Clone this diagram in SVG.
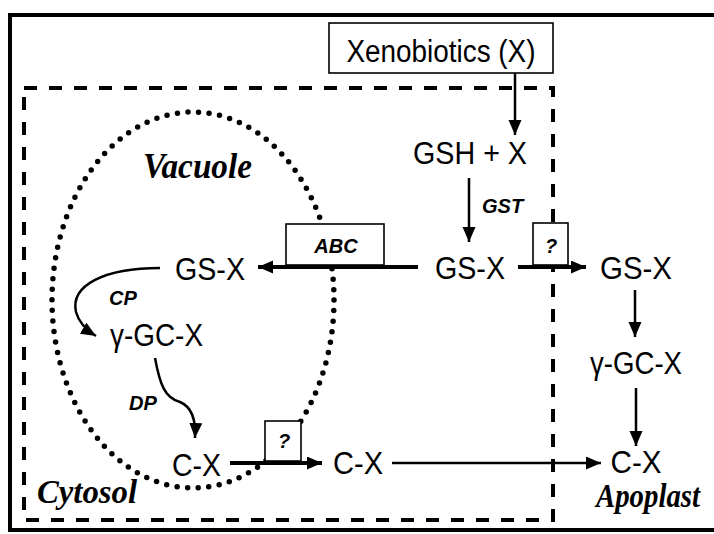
<svg xmlns="http://www.w3.org/2000/svg" width="714" height="534" viewBox="0 0 714 534">
<defs>
<marker id="ah" markerUnits="userSpaceOnUse" markerWidth="16" markerHeight="14" refX="15" refY="6.5" orient="auto">
<path d="M0,0 L15,6.5 L0,13 z" fill="#000"/>
</marker>
<style>
.lbl{font-family:"Liberation Sans",Arial,sans-serif;font-size:31px;fill:#000}
.enz{font-family:"Liberation Sans",Arial,sans-serif;font-size:20px;font-weight:bold;font-style:italic;fill:#000}
.comp{font-family:"Liberation Serif","Times New Roman",serif;font-weight:bold;font-style:italic;fill:#000}
.box{fill:#fff;stroke:#000;stroke-width:1.6}
.arr{fill:none;stroke:#000;stroke-width:2.5;marker-end:url(#ah)}
.thick{fill:none;stroke:#000;stroke-width:3.8;marker-end:url(#ah)}
</style>
</defs>
<rect width="714" height="534" fill="#fff"/>
<g id="frame">
<path d="M718 15 H10 V530 H718" fill="none" stroke="#000" stroke-width="4"/>
</g>
<g id="cytosol">
<rect x="24" y="88" width="529" height="432" fill="none" stroke="#000" stroke-width="4" stroke-dasharray="13 12"/>
<text class="comp" x="37" y="503" font-size="34" textLength="100" lengthAdjust="spacingAndGlyphs">Cytosol</text>
</g>
<g id="vacuole">
<ellipse cx="193" cy="300" rx="141" ry="188" fill="none" stroke="#000" stroke-width="5.5" stroke-linecap="round" stroke-dasharray="0 10.6"/>
<text class="comp" x="143" y="178" font-size="35" textLength="109" lengthAdjust="spacingAndGlyphs">Vacuole</text>
</g>
<g id="apoplast">
<text class="comp" x="596" y="507" font-size="33" textLength="104" lengthAdjust="spacingAndGlyphs">Apoplast</text>
</g>
<g id="connectors">
<line class="arr" x1="515" y1="63" x2="515" y2="135"/>
<line class="arr" x1="469" y1="178" x2="469" y2="242"/>
<line class="thick" x1="418" y1="267" x2="258" y2="267"/>
<line class="thick" x1="518" y1="267" x2="586" y2="267"/>
<line class="arr" x1="635" y1="290" x2="635" y2="337"/>
<line class="arr" x1="636" y1="388" x2="636" y2="446"/>
<path class="arr" d="M160 268 C105 268 70 285 76 312 C79 323 86 330 96 336"/>
<path class="arr" d="M155 358 C160 385 165 398 180 402 C192 407 196 420 195 438"/>
<line class="thick" x1="230" y1="463" x2="322" y2="463"/>
<line class="arr" x1="392" y1="463" x2="601" y2="463"/>
</g>
<g id="xenobiotics">
<rect class="box" x="329" y="23" width="224" height="50"/>
<text class="lbl" x="441" y="62" text-anchor="middle" textLength="189" lengthAdjust="spacingAndGlyphs">Xenobiotics (X)</text>
</g>
<g id="gsh">
<text class="lbl" x="470" y="164" text-anchor="middle" textLength="114" lengthAdjust="spacingAndGlyphs">GSH + X</text>
</g>
<g id="gst"><text class="enz" x="482" y="213">GST</text></g>
<g id="gsx-cyt"><text class="lbl" x="470" y="279" text-anchor="middle" textLength="70" lengthAdjust="spacingAndGlyphs">GS-X</text></g>
<g id="abc">
<rect class="box" x="286" y="224" width="98" height="41"/>
<text class="enz" x="336" y="253" text-anchor="middle" font-size="22">ABC</text>
</g>
<g id="gsx-vac"><text class="lbl" x="210" y="280" text-anchor="middle" textLength="70" lengthAdjust="spacingAndGlyphs">GS-X</text></g>
<g id="q-top">
<rect class="box" x="533" y="223" width="35" height="42"/>
<text class="enz" x="551" y="253" text-anchor="middle">?</text>
</g>
<g id="gsx-apo"><text class="lbl" x="636" y="279" text-anchor="middle" textLength="72" lengthAdjust="spacingAndGlyphs">GS-X</text></g>
<g id="ggcx-apo"><text class="lbl" x="636" y="374" text-anchor="middle" textLength="92" lengthAdjust="spacingAndGlyphs">γ-GC-X</text></g>
<g id="cx-apo"><text class="lbl" x="636" y="473" text-anchor="middle" textLength="51" lengthAdjust="spacingAndGlyphs">C-X</text></g>
<g id="cp"><text class="enz" x="109" y="305" font-size="19">CP</text></g>
<g id="ggcx-vac"><text class="lbl" x="110" y="346" textLength="93" lengthAdjust="spacingAndGlyphs">γ-GC-X</text></g>
<g id="dp"><text class="enz" x="129" y="410" font-size="19">DP</text></g>
<g id="cx-vac"><text class="lbl" x="172" y="476" textLength="49" lengthAdjust="spacingAndGlyphs">C-X</text></g>
<g id="q-bottom">
<rect class="box" x="265" y="421" width="36" height="40"/>
<text class="enz" x="284" y="448" text-anchor="middle">?</text>
</g>
<g id="cx-cyt"><text class="lbl" x="333" y="474" textLength="50" lengthAdjust="spacingAndGlyphs">C-X</text></g>
</svg>
